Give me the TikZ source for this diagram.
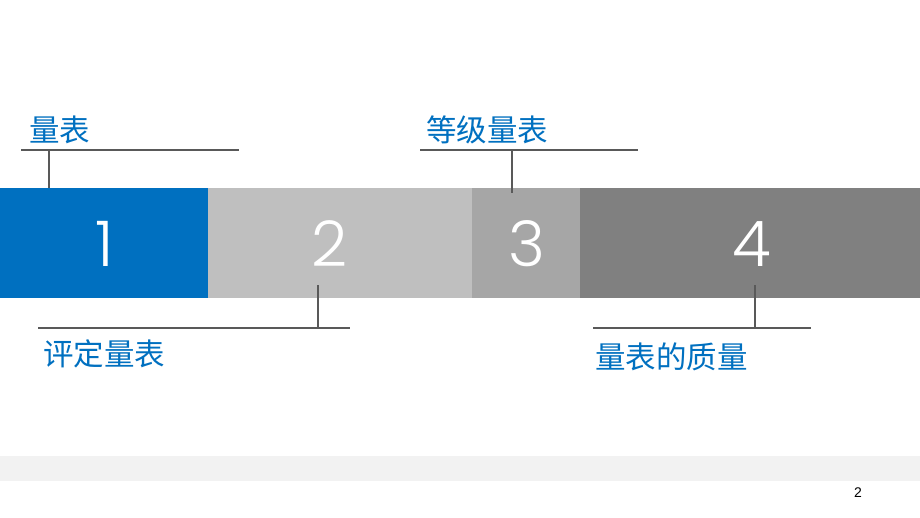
\documentclass[tikz,border=0pt]{standalone}
\usepackage{fontspec}
\newfontfamily\cjk{Noto Sans CJK SC}
\newfontfamily\numfont{Poppins Light}
\setmainfont{Liberation Sans}
\definecolor{blue1}{HTML}{0070C0}
\definecolor{g2}{HTML}{BFBFBF}
\definecolor{g3}{HTML}{A6A6A6}
\definecolor{g4}{HTML}{808080}
\definecolor{lineg}{HTML}{595959}
\definecolor{strip}{HTML}{F2F2F2}
\tikzset{
  seg/.style={draw=none, inner sep=0pt, outer sep=0pt, minimum height=110pt, anchor=north west},
  num/.style={text=white, font=\numfont\fontsize{63}{63}\selectfont},
  lab/.style={text=blue1, font=\cjk\fontsize{30.5}{32}\selectfont, inner sep=0pt, anchor=west},
  conn/.style={draw=lineg, line width=1.1pt}
}
\begin{document}
\begin{tikzpicture}[x=1pt,y=-1pt]
\useasboundingbox (0,0) rectangle (920,518);
\fill[white] (0,0) rectangle (920,518);
% bar segments
\node[seg, fill=blue1, minimum width=208pt] (s1) at (0,188) {};
\node[seg, fill=g2, minimum width=264pt] (s2) at (208,188) {};
\node[seg, fill=g3, minimum width=108pt] (s3) at (472,188) {};
\node[seg, fill=g4, minimum width=340pt] (s4) at (580,188) {};
% numbers
\node[num] (n1) at (105,244) {1};
\node[num] (n2) at (330,244) {2};
\node[num] (n3) at (527,244) {3};
\node[num] (n4) at (752,244) {4};
% labels
\node[lab] (l1) at (29,130) {量表};
\node[lab] (l3) at (426,130) {等级量表};
\node[lab] (l2) at (43,354) {评定量表};
\node[lab] (l4) at (595,357) {量表的质量};
% connector coordinates
\coordinate (a1) at (21,150); \coordinate (b1) at (239,150);
\coordinate (t1) at (49,150); \coordinate (e1) at (49,188);
\coordinate (a3) at (420,150); \coordinate (b3) at (638,150);
\coordinate (t3) at (512,150); \coordinate (e3) at (512,193);
\coordinate (a2) at (38,328); \coordinate (b2) at (350,328);
\coordinate (t2) at (318,328); \coordinate (e2) at (318,285);
\coordinate (a4) at (593,328); \coordinate (b4) at (811,328);
\coordinate (t4) at (755,328); \coordinate (e4) at (755,285);
\draw[conn] (a1) -- (b1); \draw[conn] (t1) -- (e1);
\draw[conn] (a3) -- (b3); \draw[conn] (t3) -- (e3);
\draw[conn] (a2) -- (b2); \draw[conn] (t2) -- (e2);
\draw[conn] (a4) -- (b4); \draw[conn] (t4) -- (e4);
% bottom strip and page number
\node[fill=strip, draw=none, minimum width=920pt, minimum height=25pt, inner sep=0pt, anchor=north west] (strip) at (0,456) {};
\node[font=\fontsize{14}{14}\selectfont, text=black] (pg) at (858,493) {2};
\end{tikzpicture}
\end{document}
